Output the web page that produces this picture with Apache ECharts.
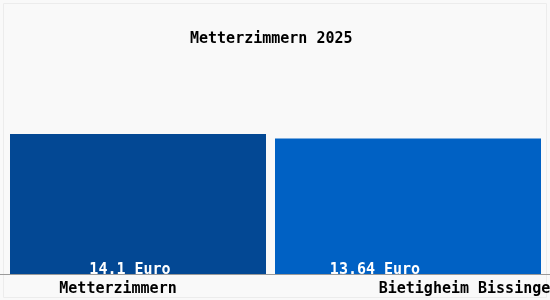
<!DOCTYPE html>
<html>
<head>
<meta charset="utf-8">
<script src="https://cdn.jsdelivr.net/npm/echarts@6/dist/echarts.min.js"></script>
<style>html,body{margin:0;padding:0;background:#F9F9F9;}#c{width:550px;height:300px;}</style>
</head>
<body>
<div id="c"></div>
<script>
const title = 'Metterzimmern 2025';
const categories = ['Metterzimmern', 'Bietigheim Bissingen'];
const values = [14.1, 13.64];
const unit = 'Euro';
const colors = ['#034894', '#0061C4'];

const chart = echarts.init(document.getElementById('c'), null, {renderer: 'canvas'});
const font = 'DejaVu Sans Mono';
const option = {
  backgroundColor: '#F9F9F9',
  animation: false,
  title: {
    text: title, left: 190, top: 32, padding: 0,
    textStyle: {fontFamily: font, fontSize: 15, fontWeight: 'bold', color: '#000'}
  },
  grid: {left: 3, right: 7, top: 125, bottom: 25, containLabel: false, outerBoundsMode: 'none'},
  xAxis: [
    {type: 'category', data: categories, axisLine: {show: false}, axisTick: {show: false},
     axisLabel: {
       margin: 7, interval: 0, hideOverlap: false,
       formatter: function (v, i) { return i === 0 ? '{a|' + v + '}' : '{b|' + v + '}'; },
       rich: {
         a: {fontFamily: font, fontSize: 15, fontWeight: 'bold', color: '#000', padding: [0, 40, 0, 0]},
         b: {fontFamily: font, fontSize: 15, fontWeight: 'bold', color: '#000', padding: [0, 0, 0, 122]}
       }
     }},
    {type: 'category', data: categories, show: false}
  ],
  yAxis: {type: 'value', min: 0, max: 15, show: false, splitLine: {show: false}},
  series: [
    {type: 'bar', xAxisIndex: 0, barWidth: 256, data: [values[0], '-'],
     itemStyle: {color: colors[0]},
     label: {show: true, position: 'insideBottom', distance: 5, offset: [-8, 8],
       formatter: function (p) { return p.value + ' ' + unit; },
       fontFamily: font, fontSize: 15, fontWeight: 'bold', color: '#fff'}},
    {type: 'bar', xAxisIndex: 1, barWidth: 266, data: ['-', values[1]],
     itemStyle: {color: colors[1]},
     label: {show: true, position: 'insideBottom', distance: 5, offset: [-33, 8],
       formatter: function (p) { return p.value + ' ' + unit; },
       fontFamily: font, fontSize: 15, fontWeight: 'bold', color: '#fff'}}
  ],
  graphic: [
    {type: 'rect', shape: {x: 3.5, y: 3.5, width: 543, height: 294}, style: {fill: null, stroke: '#ECECEC', lineWidth: 1}, silent: true, z: 0},
    {type: 'line', shape: {x1: 0, y1: 274.5, x2: 550, y2: 274.5}, style: {stroke: '#9A9A9A', lineWidth: 1}, silent: true, z: 100}
  ]
};
chart.setOption(option);
</script>
</body>
</html>
